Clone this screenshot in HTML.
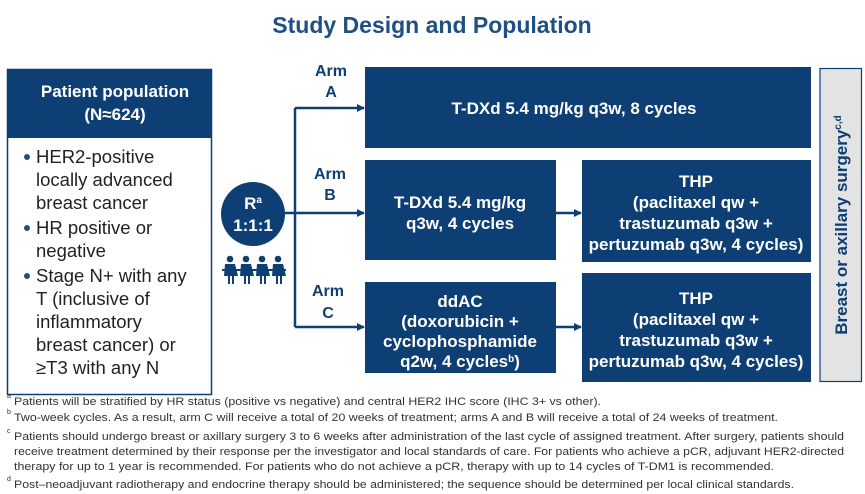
<!DOCTYPE html>
<html><head><meta charset="utf-8"><style>
html,body{margin:0;padding:0;background:#fff;}
svg{display:block;font-family:"Liberation Sans",Arial,sans-serif;}
.w{fill:#fff;font-weight:bold;font-size:17px;text-anchor:middle;}
.arm{fill:#0e3f74;font-weight:bold;font-size:16px;text-anchor:middle;}
.b{fill:#222;font-size:18.5px;}
.f{fill:#333;font-size:11px;}
</style></head><body>
<svg width="865" height="494" viewBox="0 0 865 494" xmlns="http://www.w3.org/2000/svg">
<defs><marker id="ar" markerWidth="8" markerHeight="8" refX="7" refY="4" orient="auto" markerUnits="userSpaceOnUse"><path d="M0,0 L8,4 L0,8 z" fill="#0e3f74"/></marker></defs>
<text x="432" y="33" text-anchor="middle" font-size="23" font-weight="bold" fill="#1f4f85">Study Design and Population</text>
<!-- left box -->
<rect x="7.5" y="69.5" width="204" height="325" fill="#fff" stroke="#0e3f74" stroke-width="1.5"/>
<rect x="7" y="69" width="205" height="69" fill="#0e3f74"/>
<text class="w" x="115" y="97" font-size="18.5">Patient population</text>
<text class="w" x="115" y="120" font-size="18.5">(N≈624)</text>
<g fill="#1f4f85"><circle cx="27" cy="157" r="3"/><circle cx="27" cy="228" r="3"/><circle cx="27" cy="276" r="3"/></g>
<text class="b" x="36" y="163">HER2-positive</text>
<text class="b" x="36" y="186">locally advanced</text>
<text class="b" x="36" y="209">breast cancer</text>
<text class="b" x="36" y="234">HR positive or</text>
<text class="b" x="36" y="257">negative</text>
<text class="b" x="36" y="282">Stage N+ with any</text>
<text class="b" x="36" y="305">T (inclusive of</text>
<text class="b" x="36" y="328">inflammatory</text>
<text class="b" x="36" y="351">breast cancer) or</text>
<text class="b" x="36" y="374">≥T3 with any N</text>
<!-- circle -->
<circle cx="253" cy="214" r="32" fill="#0e3f74"/>
<text class="w" x="253" y="209">R<tspan dy="-6" font-size="10">a</tspan></text>
<text class="w" x="253" y="231">1:1:1</text>
<!-- people -->
<g fill="#0e3f74">
<g id="p"><circle cx="230" cy="259" r="3.3"/><path d="M225,264 h10 l3,12 h-4 v8 h-2 v-8 h-2 v8 h-2 v-8 h-4 z"/></g>
<use href="#p" x="16"/><use href="#p" x="32"/><use href="#p" x="48"/>
<path d="M222,270 L286,270" stroke="#0e3f74" stroke-width="2"/>
</g>
<!-- connectors -->
<g stroke="#0e3f74" stroke-width="2.5" fill="none">
<path d="M285,213 H295 M295,108 V327"/>
<path d="M295,108 H364" marker-end="url(#ar)"/>
<path d="M295,213 H364" marker-end="url(#ar)"/>
<path d="M295,327 H364" marker-end="url(#ar)"/>
<path d="M555,213 H581" marker-end="url(#ar)"/>
<path d="M555,327 H581" marker-end="url(#ar)"/>
</g>
<text class="arm" x="331" y="76">Arm</text><text class="arm" x="331" y="97">A</text>
<text class="arm" x="330" y="179">Arm</text><text class="arm" x="330" y="200">B</text>
<text class="arm" x="328" y="296">Arm</text><text class="arm" x="328" y="318">C</text>
<!-- boxes -->
<g fill="#0e3f74">
<rect x="365" y="67" width="446" height="81"/>
<rect x="365" y="160" width="191" height="100"/>
<rect x="365" y="282" width="191" height="91"/>
<rect x="582" y="160" width="229" height="102"/>
<rect x="582" y="273" width="229" height="109"/>
</g>
<text class="w" x="574" y="114">T-DXd 5.4 mg/kg q3w, 8 cycles</text>
<text class="w" x="460" y="208">T-DXd 5.4 mg/kg</text>
<text class="w" x="460" y="229">q3w, 4 cycles</text>
<text class="w" x="460" y="307">ddAC</text>
<text class="w" x="460" y="327">(doxorubicin +</text>
<text class="w" x="460" y="347">cyclophosphamide</text>
<text class="w" x="460" y="367">q2w, 4 cycles<tspan font-size="10" dy="-5">b</tspan><tspan dy="5">)</tspan></text>
<text class="w" x="696" y="187">THP</text>
<text class="w" x="696" y="208">(paclitaxel qw +</text>
<text class="w" x="696" y="229">trastuzumab q3w +</text>
<text class="w" x="696" y="250">pertuzumab q3w, 4 cycles)</text>
<text class="w" x="696" y="304">THP</text>
<text class="w" x="696" y="325">(paclitaxel qw +</text>
<text class="w" x="696" y="346">trastuzumab q3w +</text>
<text class="w" x="696" y="367">pertuzumab q3w, 4 cycles)</text>
<rect x="820" y="68.5" width="41.5" height="313" fill="#e3e3e3" stroke="#0e3f74" stroke-width="1.2"/>
<text transform="translate(847,225) rotate(-90)" text-anchor="middle" font-size="17" font-weight="bold" fill="#0e3f74">Breast or axillary surgery<tspan font-size="10" dy="-6">c,d</tspan></text>
<!-- footnotes -->
<g class="f">
<text x="7" y="398" font-size="7">a</text><text x="14" y="405" textLength="587" lengthAdjust="spacingAndGlyphs">Patients will be stratified by HR status (positive vs negative) and central HER2 IHC score (IHC 3+ vs other).</text>
<text x="7" y="414" font-size="7">b</text><text x="14" y="421" textLength="764" lengthAdjust="spacingAndGlyphs">Two-week cycles. As a result, arm C will receive a total of 20 weeks of treatment; arms A and B will receive a total of 24 weeks of treatment.</text>
<text x="7" y="433" font-size="7">c</text><text x="14" y="440" textLength="830" lengthAdjust="spacingAndGlyphs">Patients should undergo breast or axillary surgery 3 to 6 weeks after administration of the last cycle of assigned treatment. After surgery, patients should</text>
<text x="14" y="455" textLength="830" lengthAdjust="spacingAndGlyphs">receive treatment determined by their response per the investigator and local standards of care. For patients who achieve a pCR, adjuvant HER2-directed</text>
<text x="14" y="470" textLength="760" lengthAdjust="spacingAndGlyphs">therapy for up to 1 year is recommended. For patients who do not achieve a pCR, therapy with up to 14 cycles of T-DM1 is recommended.</text>
<text x="7" y="481" font-size="7">d</text><text x="14" y="488" textLength="780" lengthAdjust="spacingAndGlyphs">Post–neoadjuvant radiotherapy and endocrine therapy should be administered; the sequence should be determined per local clinical standards.</text>
</g>
</svg>
</body></html>
